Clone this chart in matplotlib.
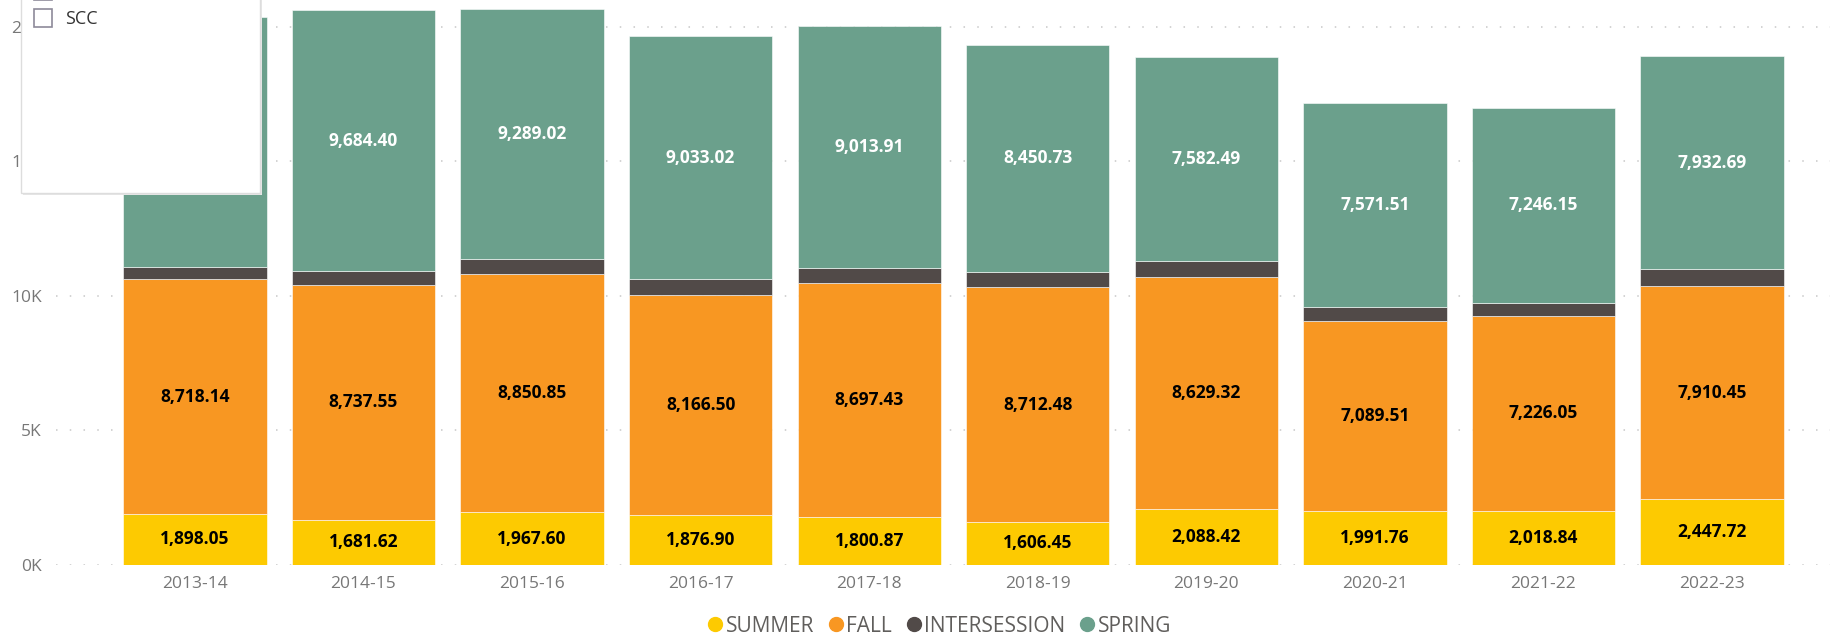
import matplotlib
matplotlib.use("Agg")
import matplotlib.pyplot as plt
from matplotlib.patches import Rectangle
from matplotlib.lines import Line2D
import numpy as np

plt.rcParams['font.family'] = ['Open Sans', 'DejaVu Sans']

years = ['2013-14', '2014-15', '2015-16', '2016-17', '2017-18',
         '2018-19', '2019-20', '2020-21', '2021-22', '2022-23']
summer = [1898.05, 1681.62, 1967.60, 1876.90, 1800.87, 1606.45, 2088.42, 1991.76, 2018.84, 2447.72]
fall = [8718.14, 8737.55, 8850.85, 8166.50, 8697.43, 8712.48, 8629.32, 7089.51, 7226.05, 7910.45]
intersession = [459, 508, 545, 570, 533, 570, 582, 508, 508, 632]  # not labelled
spring = [9295.00, 9684.40, 9289.02, 9033.02, 9013.91, 8450.73, 7582.49, 7571.51, 7246.15, 7932.69]

series = [('SUMMER', summer, '#FDCA01', 'black'),
          ('FALL', fall, '#F89722', 'black'),
          ('INTERSESSION', intersession, '#514A48', None),
          ('SPRING', spring, '#6BA08C', 'white')]

W, H = 1832, 638
fig = plt.figure(figsize=(W / 100, H / 100), dpi=100)
ax = fig.add_axes([56 / W, 1 - 565 / H, (1830 - 56) / W, 565 / H])

x = np.arange(len(years))
bottom = np.zeros(len(years))
for name, vals, col, lab_col in series:
    vals = np.array(vals, dtype=float)
    ax.bar(x, vals, 0.85, bottom=bottom, color=col, edgecolor='#ffffff', linewidth=0.4, zorder=3)
    if lab_col:
        for xi, b, v in zip(x, bottom, vals):
            ax.text(xi, b + v / 2, f'{v:,.2f}', ha='center', va='center',
                    color=lab_col, fontsize=12.5, fontweight='bold', zorder=4)
    bottom += vals

ax.set_xlim(-0.824, 9.70)
ax.set_ylim(0, 21000)
ax.set_yticks([0, 5000, 10000, 15000, 20000])
ax.set_yticklabels(['0K', '5K', '10K', '15K', '20K'])
ax.set_xticks(x)
ax.set_xticklabels(years)
ax.tick_params(length=0, labelsize=12.5, labelcolor='#777777')
ax.tick_params(axis='y', pad=10)
ax.tick_params(axis='x', pad=8)
ax.yaxis.grid(True, color='#c8c8c8', linewidth=1.1, linestyle=(0, (1, 8)), zorder=0)
for s in ax.spines.values():
    s.set_visible(False)

handles = [Line2D([], [], marker='o', linestyle='', markersize=10, color=c) for _, _, c, _ in series]
fig.legend(handles, [s[0] for s in series], loc='center', bbox_to_anchor=(937 / W, 1 - 626 / H),
           ncol=4, frameon=False, fontsize=15, labelcolor='#605E5C',
           handletextpad=-0.1, columnspacing=0.45, handlelength=1.2)

# slicer panel drawn over the top-left corner
fig.add_artist(Rectangle((23 / W, 1 - 195 / H), 239 / W, 200 / H, transform=fig.transFigure,
                         facecolor='#e6e6e6', edgecolor='none', zorder=9))
fig.add_artist(Rectangle((21 / W, 1 - 193 / H), 239 / W, 200 / H, transform=fig.transFigure,
                         facecolor='white', edgecolor='#dddddd', linewidth=1, zorder=10))
for top in [-18, 9]:
    fig.add_artist(Rectangle((34 / W, 1 - (top + 18) / H), 18 / W, 18 / H, transform=fig.transFigure,
                             facecolor='white', edgecolor='#8d8a99', linewidth=1.2, zorder=11))
fig.text(65 / W, 1 - 19 / H, 'SCC', ha='left', va='center', fontsize=13, color='#333333', zorder=12)

fig.savefig('out.png', dpi=100)
